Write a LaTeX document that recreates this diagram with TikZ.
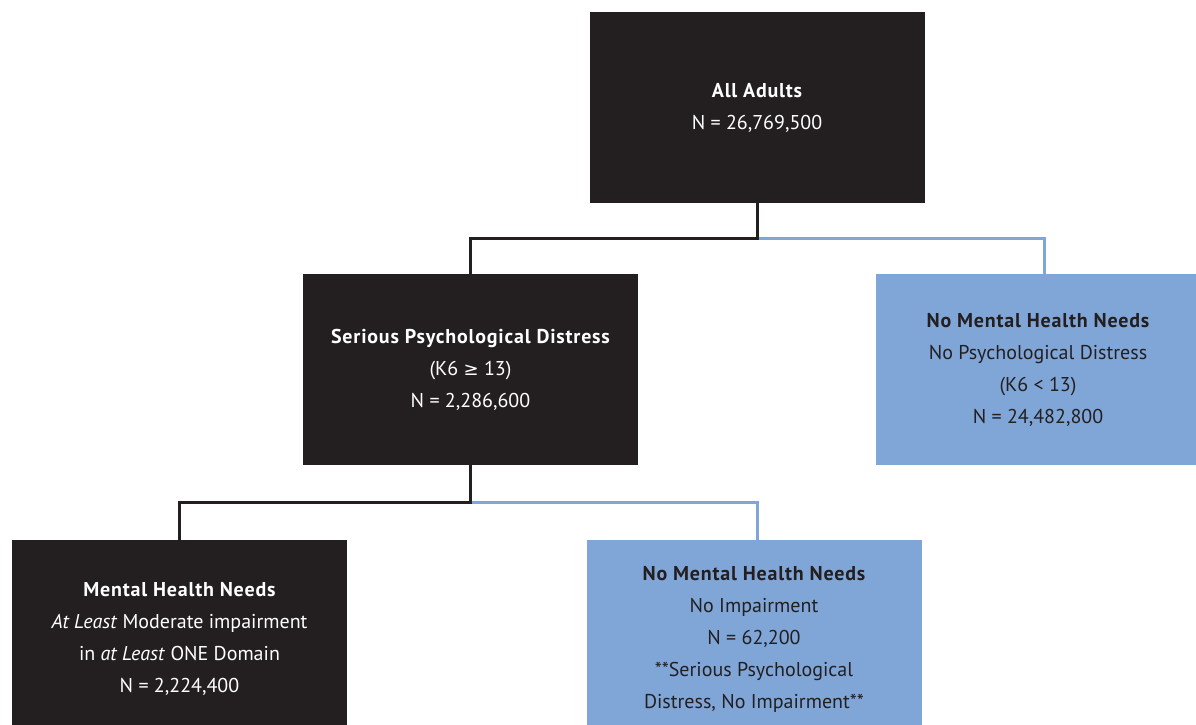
\documentclass[tikz,border=0pt]{standalone}
\usepackage{fontspec}
\setmainfont{PT Sans}
\newfontfamily\symfont{DejaVu Sans}
\newcommand\hdtext[1]{{\bfseries\addfontfeatures{LetterSpace=4}#1}}
\definecolor{boxblack}{HTML}{231F20}
\definecolor{boxblue}{HTML}{80A6D7}
\begin{document}
\begin{tikzpicture}[x=1pt,y=-1pt,
  basebox/.style={minimum width=335pt, minimum height=191pt, align=center, inner sep=0pt, font=\fontsize{20}{32}\selectfont},
  darkbox/.style={basebox, fill=boxblack, text=white},
  bluebox/.style={basebox, fill=boxblue, text=boxblack},
  blackline/.style={draw=boxblack, line width=3pt},
  blueline/.style={draw=boxblue, line width=3pt}]
\useasboundingbox (0,0) rectangle (1196,725);
\node[darkbox] (all) at (757,107.5) {\hdtext{All Adults}\\N = 26,769,500};
\node[darkbox] (spd) at (470.5,369.5) {\hdtext{Serious Psychological Distress}\\(K6 {\symfont\fontsize{18}{32}\selectfont ≥} 13)\\N = 2,286,600};
\node[bluebox, minimum width=324pt] (nomh1) at (1038,369.5) {\hdtext{No Mental Health Needs}\\No Psychological Distress\\(K6 < 13)\\N = 24,482,800};
\node[darkbox, minimum height=198pt] (mhn) at (179.5,639) {\hdtext{Mental Health Needs}\\\textit{At Least} Moderate impairment\\in \textit{at Least} ONE Domain\\N = 2,224,400};
\node[bluebox, minimum height=198pt] (nomh2) at (754,639) {\hdtext{No Mental Health Needs}\\No Impairment\\N = 62,200\\**Serious Psychological\\Distress, No Impairment**};
\path (all.south) ++(0,35) coordinate (j1);
\path (spd.south) ++(0,37) coordinate (j2);
\draw[blueline] (j1) -| ([xshift=6pt]nomh1.north);
\draw[blackline] (all.south) -- (j1) -| (spd.north);
\draw[blueline] (j2) -| ([xshift=3pt]nomh2.north);
\draw[blackline] (spd.south) -- (j2) -| (mhn.north);
\end{tikzpicture}
\end{document}
